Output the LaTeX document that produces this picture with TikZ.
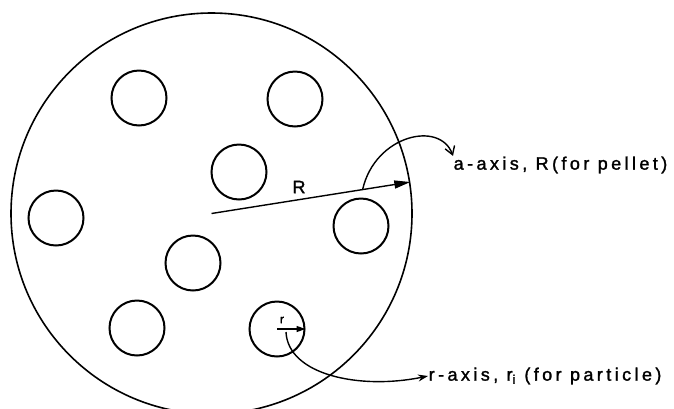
\documentclass[tikz,border=0pt]{standalone}
\usepackage{fontspec}
\setmainfont{Liberation Sans}
\usepackage{tikz}
\usetikzlibrary{arrows.meta}
\usetikzlibrary{calc}

\begin{document}
\begin{tikzpicture}[
    x=1pt, y=-1pt,
    pellet/.style={circle, draw, line width=1.6pt, minimum size=401pt, inner sep=0pt},
    particle/.style={circle, draw, line width=2pt, minimum size=55pt, inner sep=0pt},
    lettering/.style={inner sep=0pt, font=\fontsize{18}{20}\selectfont\addfontfeatures{LetterSpace=19, FakeBold=1.5}},
    every path/.style={line width=1.4pt},
  ]
\tikzset{>={Stealth[length=10pt, width=7pt]}}
  \useasboundingbox (0,0) rectangle (674,408);

  \node[pellet] (pellet) at (211.5, 213.5) {};

  \node[particle] (p1) at (139, 98)  {};
  \node[particle] (p2) at (295, 99)  {};
  \node[particle] (p3) at (239, 172) {};
  \node[particle] (p4) at (56, 218)  {};
  \node[particle] (p5) at (361, 226) {};
  \node[particle] (p6) at (193, 263) {};
  \node[particle] (p7) at (137, 328) {};
  \node[particle] (p8) at (277, 329) {};

  % radius of the pellet
  \draw[-{Triangle[length=16pt, width=8pt]}] (pellet.center) -- (pellet.9.6);
  \node[lettering] (R) at (299, 187) {R};
  % radius of a particle
  \draw[-{Triangle[length=9pt, width=6pt]}] (p8.center) -- (p8.east);
  \node[inner sep=0pt, font=\fontsize{12}{13}\selectfont\addfontfeatures{FakeBold=1.5}] (r) at (282, 320) {r};

  \node[lettering, anchor=west] (pelletaxis) at (453, 165) {a-axis, R(for pellet)};
  \node[lettering, anchor=west] (particleaxis) at (428, 376) {r-axis, r\textsubscript{i} (for particle)};

  \coordinate (Rfoot) at ($(pellet.center)!0.76!(pellet.9.6)$);
  \coordinate (rfoot) at (286, 332);

  \draw[-{Straight Barb[length=8pt, width=10pt]}] (Rfoot) .. controls (375, 135) and (440, 120) .. (pelletaxis.north west);
  \draw[->] (rfoot) .. controls (288, 375) and (360, 390) .. (particleaxis.west);

\end{tikzpicture}
\end{document}
